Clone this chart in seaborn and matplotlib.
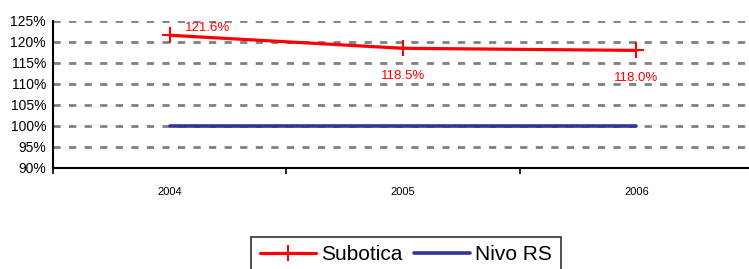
import pandas as pd
import seaborn as sns
import matplotlib.pyplot as plt
from matplotlib.ticker import FixedLocator, PercentFormatter


years = ["2004", "2005", "2006"]
subotica = [121.6, 118.5, 118.0]
nivo_rs = [100.0, 100.0, 100.0]
series_names = ["Subotica", "Nivo RS"]
series_colors = ["#FF0000", "#333399"]

sns.set_style("white")
plt.rcParams["font.family"] = ["Liberation Sans", "DejaVu Sans"]
plt.rcParams["text.color"] = "black"
plt.rcParams["xtick.color"] = "black"
plt.rcParams["ytick.color"] = "black"

df = pd.DataFrame({
    "year": years * 2,
    "value": subotica + nivo_rs,
    "series": [series_names[0]] * 3 + [series_names[1]] * 3,
})

fig = plt.figure(figsize=(7.49, 2.69), dpi=100)
ax = fig.add_axes([53 / 749, 1 - 168 / 269, 700 / 749, 147 / 269])

# dashed grey grid like the original
for y in range(95, 126, 5):
    ax.axhline(y, color="#808080", lw=2, ls=(0, (2.6, 3)), zorder=1)

sns.lineplot(data=df[df.series == "Subotica"], x="year", y="value",
             color=series_colors[0], lw=2.3, marker="+", markersize=12,
             markeredgewidth=1.5, markeredgecolor=series_colors[0],
             label="Subotica", ax=ax, zorder=3)
sns.lineplot(data=df[df.series == "Nivo RS"], x="year", y="value",
             color=series_colors[1], lw=2.6, label="Nivo RS", ax=ax, zorder=2)

# data labels for Subotica
offsets = [(27, 5), (0, -20), (0, -20)]
for i, (v, off) in enumerate(zip(subotica, offsets)):
    ax.annotate(f"{v:.1f}%", (i, v), xytext=off, textcoords="offset points",
                ha="center", va="center", color="#FF0000", fontsize=9.5,
                zorder=5)

ax.set_xlim(-0.5, 2.5)
ax.set_ylim(90, 125)
ax.set_yticks(range(90, 126, 5))
ax.yaxis.set_major_formatter(PercentFormatter(decimals=0))
ax.tick_params(axis="y", labelsize=10, length=3, width=1.2, color="black", pad=2)
ax.tick_params(axis="x", which="major", labelsize=8, length=0, pad=14)
ax.xaxis.set_minor_locator(FixedLocator([-0.5, 0.5, 1.5, 2.5]))
ax.tick_params(axis="x", which="minor", length=4, width=1.2, color="black", bottom=True)
ax.set_xlabel("")
ax.set_ylabel("")

for side in ["top", "right"]:
    ax.spines[side].set_visible(False)
for side in ["left", "bottom"]:
    ax.spines[side].set_color("black")
    ax.spines[side].set_linewidth(1.5)

ax.legend_.remove()
handles, labels = ax.get_legend_handles_labels()
leg = fig.legend(handles, labels, loc="upper center", ncol=2,
                 bbox_to_anchor=(406 / 749, 1 - 237 / 269), fontsize=15,
                 frameon=True, fancybox=False, edgecolor="black",
                 handlelength=2.7, handletextpad=0.25, columnspacing=0.55,
                 borderpad=0.4, borderaxespad=0)
leg.get_frame().set_linewidth(1.2)

plt.savefig("out.png", dpi=100)
